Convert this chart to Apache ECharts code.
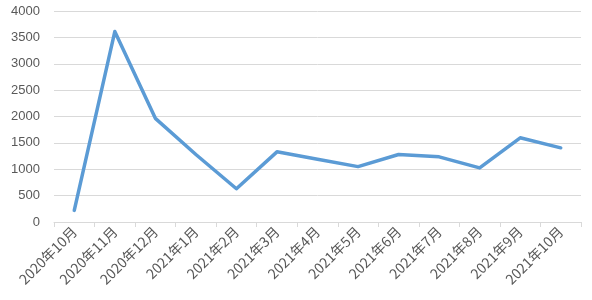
<!DOCTYPE html>
<html><head><meta charset="utf-8">
<script src="https://cdn.jsdelivr.net/npm/echarts@6/dist/echarts.min.js"></script>
<style>html,body{margin:0;padding:0;background:#fff;}#c{width:592px;height:300px;}</style>
</head><body><div id="c"></div>
<script>
const categories = ['2020年10月','2020年11月','2020年12月','2021年1月','2021年2月','2021年3月','2021年4月','2021年5月','2021年6月','2021年7月','2021年8月','2021年9月','2021年10月'];
const values = [220, 3610, 1965, 1280, 630, 1330, 1190, 1050, 1280, 1235, 1026, 1596, 1406];
const yTicks = [0, 500, 1000, 1500, 2000, 2500, 3000, 3500, 4000];

const chart = echarts.init(document.getElementById('c'), null, {renderer: 'canvas'});
chart.setOption({
  animation: false,
  grid: {left: 54, right: 11, top: 11, bottom: 78, containLabel: false},
  xAxis: {
    type: 'category',
    data: categories,
    boundaryGap: true,
    axisLine: {lineStyle: {color: '#d9d9d9', width: 1}},
    axisTick: {show: true, alignWithLabel: false, length: 5, lineStyle: {color: '#d9d9d9'}},
    axisLabel: {rotate: 45, interval: 0, color: '#595959', fontSize: 14, fontFamily: 'Noto Sans CJK SC', margin: 7}
  },
  yAxis: {
    type: 'value',
    min: yTicks[0],
    max: yTicks[yTicks.length - 1],
    interval: 500,
    axisLine: {show: false},
    axisTick: {show: false},
    splitLine: {lineStyle: {color: '#d9d9d9', width: 1}},
    axisLabel: {color: '#595959', fontSize: 13, fontFamily: 'Liberation Sans', margin: 14, formatter: v => String(v)}
  },
  series: [{
    type: 'line',
    data: values,
    symbol: 'none',
    lineStyle: {color: '#5b9bd5', width: 3.5, join: 'round', cap: 'round'}
  }]
});
</script></body></html>
